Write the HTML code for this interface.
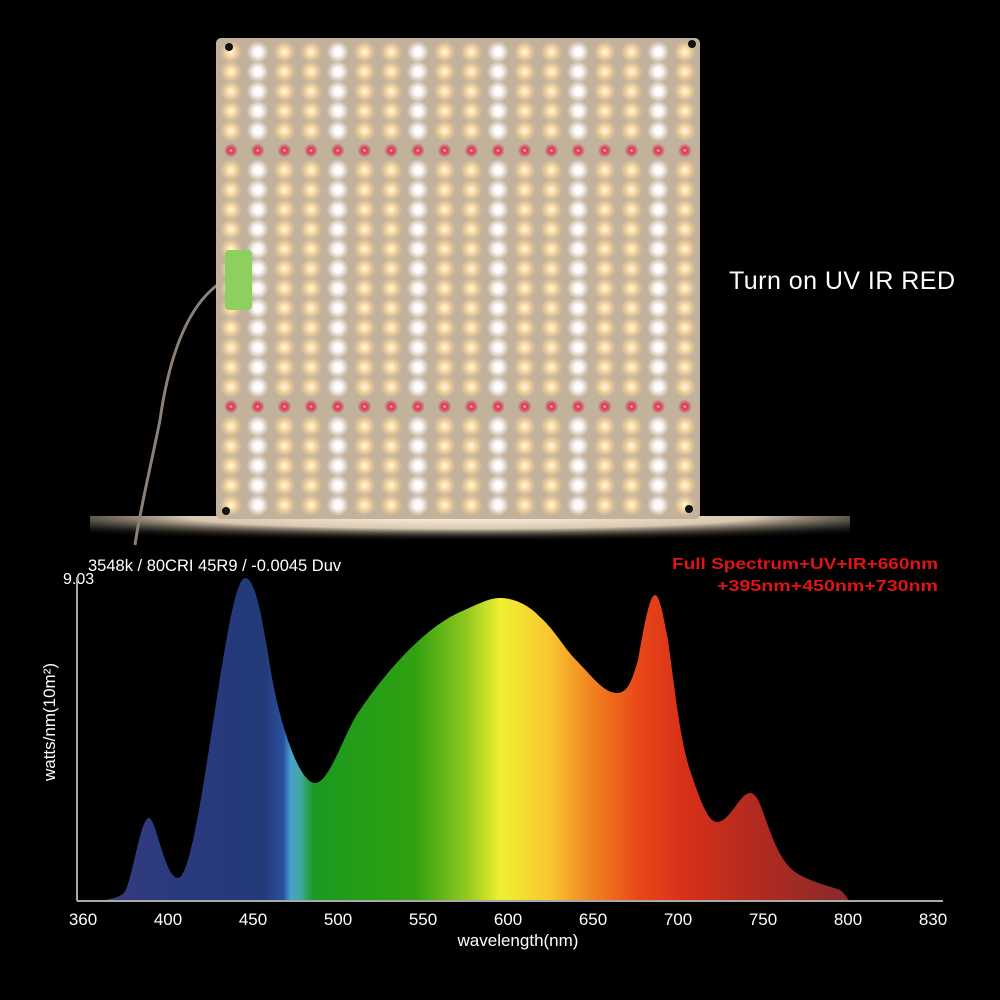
<!DOCTYPE html>
<html><head><meta charset="utf-8"><style>
html,body{margin:0;padding:0;background:#000;width:1000px;height:1000px;overflow:hidden}
svg{display:block}
text{font-family:"Liberation Sans",sans-serif}
</style></head><body>
<svg id="s" width="1000" height="1000" viewBox="0 0 1000 1000" xmlns="http://www.w3.org/2000/svg">
<defs>
<radialGradient id="w"><stop offset="0" stop-color="#fff"/><stop offset="0.35" stop-color="#fff" stop-opacity="0.95"/><stop offset="1" stop-color="#fff" stop-opacity="0"/></radialGradient>
<radialGradient id="y"><stop offset="0" stop-color="#fffbe8"/><stop offset="0.35" stop-color="#ffe0a8" stop-opacity="0.95"/><stop offset="1" stop-color="#ffd090" stop-opacity="0"/></radialGradient>
<radialGradient id="r"><stop offset="0" stop-color="#ffd0d8"/><stop offset="0.3" stop-color="#e83050"/><stop offset="1" stop-color="#c02040" stop-opacity="0"/></radialGradient>
<radialGradient id="fl2" cx="0.5" cy="0" r="0.75"><stop offset="0" stop-color="#fff4e4"/><stop offset="0.5" stop-color="#d8c8b0"/><stop offset="1" stop-color="#000" stop-opacity="0"/></radialGradient>
<linearGradient id="sp" x1="100" y1="0" x2="848" y2="0" gradientUnits="userSpaceOnUse">
<stop offset="0" stop-color="#3a3a7a"/>
<stop offset="0.08" stop-color="#2c3a80"/>
<stop offset="0.22" stop-color="#223a78"/>
<stop offset="0.245" stop-color="#2850a0"/>
<stop offset="0.255" stop-color="#4aa0d0"/>
<stop offset="0.268" stop-color="#40a8a0"/>
<stop offset="0.285" stop-color="#1a9a20"/>
<stop offset="0.42" stop-color="#30a010"/>
<stop offset="0.49" stop-color="#90c820"/>
<stop offset="0.535" stop-color="#f0f030"/>
<stop offset="0.6" stop-color="#f8c830"/>
<stop offset="0.66" stop-color="#f08020"/>
<stop offset="0.72" stop-color="#e84818"/>
<stop offset="0.78" stop-color="#d83018"/>
<stop offset="0.88" stop-color="#b02a20"/>
<stop offset="1" stop-color="#882a2a"/>
</linearGradient>
</defs>
<rect width="1000" height="1000" fill="#000"/>
<rect x="90" y="516" width="760" height="34" fill="url(#fl2)"/>
<path d="M225 280 C190 300 170 350 160 420 C150 470 140 510 135 545" stroke="#8a8078" stroke-width="3" fill="none"/>
<rect x="216" y="38" width="484" height="481" rx="5" fill="#c2b29c"/>
<g id="leds"></g>
<circle cx="229" cy="47" r="4" fill="#111"/>
<circle cx="692" cy="44" r="4" fill="#111"/>
<circle cx="226" cy="511" r="4" fill="#111"/>
<circle cx="689" cy="509" r="4" fill="#111"/>
<rect x="225" y="250" width="27" height="60" rx="4" fill="#8ed060"/>
<text x="729" y="289" fill="#fff" font-size="25" textLength="226">Turn on UV IR RED</text>
<text x="88" y="571" fill="#fff" font-size="16.5">3548k / 80CRI 45R9 / -0.0045 Duv</text>
<text x="63" y="584" fill="#fff" font-size="16">9.03</text>
<text x="672" y="569" fill="#e01414" font-size="16" font-weight="bold" textLength="266" lengthAdjust="spacingAndGlyphs">Full  Spectrum+UV+IR+660nm</text>
<text x="717" y="591" fill="#e01414" font-size="16" font-weight="bold" textLength="221" lengthAdjust="spacingAndGlyphs">+395nm+450nm+730nm</text>
<path d="M100 901 C110 899 118 898 124 893 C133 880 140 818 149 818 C156 818 165 878 178 878 C200 878 225 578 245 578 C258 578 265 640 273 683 C282 730 300 783 315 783 C330 783 345 730 360 710 C380 680 420 630 460 612 C480 603 490 598 500 598 C515 598 530 606 540 617 C555 630 565 650 578 662 C595 680 605 693 617 693 C628 693 632 680 638 660 C645 620 650 595 655 595 C660 595 664 620 668 640 C675 690 680 740 690 770 C700 800 708 822 717 822 C730 822 740 793 750 793 C758 793 762 810 767 823 C775 845 782 862 795 872 C810 882 830 886 840 890 C845 893 847 899 850 901 Z" fill="url(#sp)"/>
<line x1="77" y1="577" x2="77" y2="901" stroke="#aaa" stroke-width="2"/>
<line x1="77" y1="901" x2="943" y2="901" stroke="#aaa" stroke-width="2"/>
<g fill="#fff" font-size="17" text-anchor="middle">
<text x="83" y="925">360</text><text x="168" y="925">400</text><text x="253" y="925">450</text><text x="338" y="925">500</text><text x="423" y="925">550</text><text x="508" y="925">600</text><text x="593" y="925">650</text><text x="678" y="925">700</text><text x="763" y="925">750</text><text x="848" y="925">800</text><text x="933" y="925">830</text>
<text x="518" y="946">wavelength(nm)</text>
<text x="0" y="0" transform="translate(55 722) rotate(-90)">watts/nm(10m²)</text>
</g>
</svg>
<script>
var g=document.getElementById('leds'),h='';
var colType=['y','w','y','y','w','y','y','w','y','y','w','y','y','w','y','y','w','y'];
for(var i=0;i<24;i++){for(var j=0;j<18;j++){
var x=231+j*26.7,y=52+i*19.7,t=colType[j];
if(i==5||i==18)t='r';
var rr=t=='r'?7:11;
h+='<circle cx="'+x.toFixed(1)+'" cy="'+y.toFixed(1)+'" r="'+rr+'" fill="url(#'+t+')"/>';
}}
g.innerHTML=h;
</script>
</body></html>
